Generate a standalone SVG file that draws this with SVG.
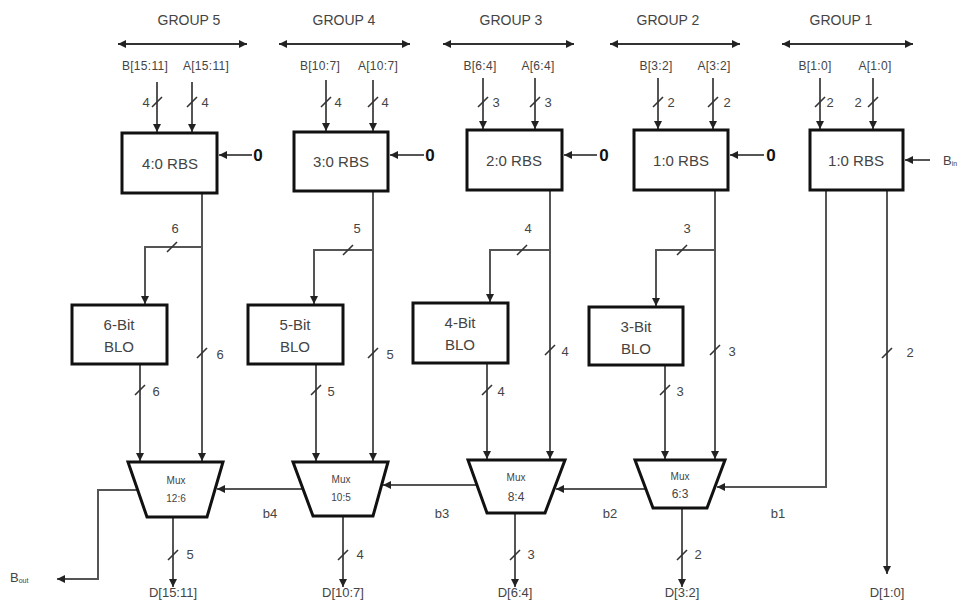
<svg xmlns="http://www.w3.org/2000/svg" width="963" height="603" viewBox="0 0 963 603">
<defs>
<marker id="ah" viewBox="0 0 8 8" refX="8" refY="4" markerWidth="8" markerHeight="8" markerUnits="userSpaceOnUse" orient="auto-start-reverse">
<path d="M0,0 L8,4 L0,8 z" fill="#222"/>
</marker>
<style>
.t{font-family:"Liberation Sans",Arial,sans-serif;fill:#444;text-anchor:middle;dominant-baseline:central}
.g{font-size:14px}
.in{font-size:12px;letter-spacing:0.3px}
.bw{font-size:13px}
.box{font-size:15px}
.mx{font-size:10px}
.mn{font-size:12px}
.zero{font-size:17px;font-weight:bold;fill:#111}
.w{fill:none;stroke:#555;stroke-width:2}
.a{marker-end:url(#ah)}
.d{marker-start:url(#ah);marker-end:url(#ah);stroke:#333}
.s{stroke:#333;stroke-width:1.6}
.b{fill:#fff;stroke:#111;stroke-width:3}
</style>
</defs>
<rect width="963" height="603" fill="#fff"/>

<g id="headers">
<text class="t g" x="189" y="20">GROUP 5</text>
<text class="t g" x="344" y="20">GROUP 4</text>
<text class="t g" x="511" y="20">GROUP 3</text>
<text class="t g" x="668" y="20">GROUP 2</text>
<text class="t g" x="841" y="20">GROUP 1</text>
<text class="t in" x="145" y="66">B[15:11]</text>
<text class="t in" x="206" y="66">A[15:11]</text>
<text class="t in" x="320" y="66">B[10:7]</text>
<text class="t in" x="378" y="66">A[10:7]</text>
<text class="t in" x="480" y="66">B[6:4]</text>
<text class="t in" x="538" y="66">A[6:4]</text>
<text class="t in" x="656" y="66">B[3:2]</text>
<text class="t in" x="714" y="66">A[3:2]</text>
<text class="t in" x="815" y="66">B[1:0]</text>
<text class="t in" x="875" y="66">A[1:0]</text>
</g>

<g id="connectors">
<line class="w d" x1="118" y1="44" x2="247" y2="44"/>
<line class="w d" x1="279" y1="44" x2="410" y2="44"/>
<line class="w d" x1="443" y1="44" x2="574" y2="44"/>
<line class="w d" x1="610" y1="44" x2="740" y2="44"/>
<line class="w d" x1="782" y1="44" x2="913" y2="44"/>
<line class="w a" x1="157" y1="82" x2="157" y2="132"/>
<line class="w a" x1="192" y1="82" x2="192" y2="132"/>
<line class="w a" x1="326" y1="80" x2="326" y2="131"/>
<line class="w a" x1="373" y1="80" x2="373" y2="131"/>
<line class="w a" x1="483" y1="78" x2="483" y2="129"/>
<line class="w a" x1="535" y1="78" x2="535" y2="129"/>
<line class="w a" x1="658" y1="78" x2="658" y2="129"/>
<line class="w a" x1="713" y1="78" x2="713" y2="129"/>
<line class="w a" x1="820" y1="78" x2="820" y2="129"/>
<line class="w a" x1="873" y1="78" x2="873" y2="129"/>
<line class="w a" x1="252" y1="155" x2="219" y2="155"/>
<line class="w a" x1="424" y1="155" x2="390" y2="155"/>
<line class="w a" x1="597" y1="155" x2="564" y2="155"/>
<line class="w a" x1="764" y1="155" x2="730" y2="155"/>
<line class="w a" x1="930" y1="160" x2="905" y2="160"/>
<line class="w a" x1="202" y1="193" x2="202" y2="461"/>
<line class="w a" x1="373" y1="191" x2="373" y2="461"/>
<line class="w a" x1="550" y1="190" x2="550" y2="459"/>
<line class="w a" x1="715" y1="190" x2="715" y2="459"/>
<polyline class="w a" points="202,247 145,247 145,304"/>
<polyline class="w a" points="373,250 314,250 314,304"/>
<polyline class="w a" points="550,250 490,250 490,302"/>
<polyline class="w a" points="715,250 656,250 656,306"/>
<line class="w a" x1="140" y1="364" x2="140" y2="461"/>
<line class="w a" x1="316" y1="364" x2="316" y2="461"/>
<line class="w a" x1="487" y1="363" x2="487" y2="459"/>
<line class="w a" x1="665" y1="365" x2="665" y2="459"/>
<polyline class="w a" points="826,190 826,487 717,487"/>
<line class="w a" x1="887" y1="190" x2="887" y2="574"/>
<line class="w a" x1="303" y1="489" x2="217" y2="489"/>
<line class="w a" x1="477" y1="485" x2="383" y2="485"/>
<line class="w a" x1="646" y1="489" x2="556" y2="489"/>
<polyline class="w a" points="138,490 98,490 98,579 57,579"/>
<line class="w a" x1="173" y1="517" x2="173" y2="587"/>
<line class="w a" x1="343" y1="516" x2="343" y2="587"/>
<line class="w a" x1="515" y1="513" x2="515" y2="587"/>
<line class="w a" x1="682" y1="508" x2="682" y2="587"/>
<g class="s">
<line x1="152" y1="107" x2="162" y2="97"/>
<line x1="187" y1="107" x2="197" y2="97"/>
<line x1="321" y1="107" x2="331" y2="97"/>
<line x1="368" y1="107" x2="378" y2="97"/>
<line x1="478" y1="107" x2="488" y2="97"/>
<line x1="530" y1="107" x2="540" y2="97"/>
<line x1="653" y1="107" x2="663" y2="97"/>
<line x1="708" y1="107" x2="718" y2="97"/>
<line x1="815" y1="107" x2="825" y2="97"/>
<line x1="868" y1="107" x2="878" y2="97"/>
<line x1="167" y1="252" x2="177" y2="242"/>
<line x1="343" y1="255" x2="353" y2="245"/>
<line x1="517" y1="255" x2="527" y2="245"/>
<line x1="677" y1="255" x2="687" y2="245"/>
<line x1="197" y1="358" x2="207" y2="348"/>
<line x1="368" y1="358" x2="378" y2="348"/>
<line x1="545" y1="355" x2="555" y2="345"/>
<line x1="710" y1="355" x2="720" y2="345"/>
<line x1="882" y1="358" x2="892" y2="348"/>
<line x1="135" y1="395" x2="145" y2="385"/>
<line x1="311" y1="395" x2="321" y2="385"/>
<line x1="482" y1="395" x2="492" y2="385"/>
<line x1="660" y1="395" x2="670" y2="385"/>
<line x1="168" y1="560" x2="178" y2="550"/>
<line x1="338" y1="560" x2="348" y2="550"/>
<line x1="510" y1="560" x2="520" y2="550"/>
<line x1="677" y1="560" x2="687" y2="550"/>
</g>
</g>

<g id="labels">
<text class="t bw" x="146" y="102">4</text>
<text class="t bw" x="205" y="102">4</text>
<text class="t bw" x="338" y="102">4</text>
<text class="t bw" x="385" y="102">4</text>
<text class="t bw" x="496" y="102">3</text>
<text class="t bw" x="548" y="102">3</text>
<text class="t bw" x="671" y="102">2</text>
<text class="t bw" x="727" y="102">2</text>
<text class="t bw" x="830" y="102">2</text>
<text class="t bw" x="858" y="102">2</text>
<text class="t bw" x="175" y="228">6</text>
<text class="t bw" x="357" y="228">5</text>
<text class="t bw" x="528" y="228">4</text>
<text class="t bw" x="687" y="228">3</text>
<text class="t bw" x="220" y="354">6</text>
<text class="t bw" x="390" y="354">5</text>
<text class="t bw" x="565" y="351">4</text>
<text class="t bw" x="732" y="351">3</text>
<text class="t bw" x="910" y="352">2</text>
<text class="t bw" x="156" y="391">6</text>
<text class="t bw" x="331" y="391">5</text>
<text class="t bw" x="501" y="391">4</text>
<text class="t bw" x="680" y="391">3</text>
<text class="t bw" x="190" y="554">5</text>
<text class="t bw" x="360" y="554">4</text>
<text class="t bw" x="531" y="554">3</text>
<text class="t bw" x="698" y="554">2</text>
<text class="t bw" x="270" y="513">b4</text>
<text class="t bw" x="442" y="513">b3</text>
<text class="t bw" x="610" y="513">b2</text>
<text class="t bw" x="778" y="513">b1</text>
<text class="t bw" x="173" y="592">D[15:11]</text>
<text class="t bw" x="343" y="592">D[10:7]</text>
<text class="t bw" x="515" y="592">D[6:4]</text>
<text class="t bw" x="682" y="592">D[3:2]</text>
<text class="t bw" x="887" y="592">D[1:0]</text>
<text class="t zero" x="258" y="155">0</text>
<text class="t zero" x="430" y="155">0</text>
<text class="t zero" x="604" y="155">0</text>
<text class="t zero" x="771" y="155">0</text>
<text class="t bw" x="943" y="160" style="text-anchor:start">B<tspan font-size="7" dy="3">in</tspan></text>
<text class="t bw" x="10" y="577" style="text-anchor:start">B<tspan font-size="7" dy="3">out</tspan></text>
</g>

<g id="rbs5"><rect class="b" x="122" y="133" width="95" height="60"/><text class="t box" x="170" y="163">4:0 RBS</text></g>
<g id="rbs4"><rect class="b" x="294" y="132" width="94" height="59"/><text class="t box" x="341" y="161">3:0 RBS</text></g>
<g id="rbs3"><rect class="b" x="467" y="130" width="95" height="60"/><text class="t box" x="514" y="160">2:0 RBS</text></g>
<g id="rbs2"><rect class="b" x="634" y="130" width="94" height="60"/><text class="t box" x="681" y="160">1:0 RBS</text></g>
<g id="rbs1"><rect class="b" x="810" y="130" width="93" height="60"/><text class="t box" x="856" y="160">1:0 RBS</text></g>

<g id="blo5"><rect class="b" x="72" y="305" width="95" height="59"/><text class="t box" x="119" y="324">6-Bit</text><text class="t box" x="119" y="346">BLO</text></g>
<g id="blo4"><rect class="b" x="248" y="305" width="95" height="59"/><text class="t box" x="295" y="324">5-Bit</text><text class="t box" x="295" y="346">BLO</text></g>
<g id="blo3"><rect class="b" x="413" y="303" width="95" height="60"/><text class="t box" x="460" y="322">4-Bit</text><text class="t box" x="460" y="344">BLO</text></g>
<g id="blo2"><rect class="b" x="589" y="307" width="94" height="58"/><text class="t box" x="636" y="326">3-Bit</text><text class="t box" x="636" y="348">BLO</text></g>

<g id="mux5"><polygon class="b" points="128,462 223,462 207,517 147,517"/><text class="t mx" x="176" y="480">Mux</text><text class="t mx" x="176" y="498">12:6</text></g>
<g id="mux4"><polygon class="b" points="293,462 388,462 373,516 313,516"/><text class="t mx" x="341" y="479">Mux</text><text class="t mx" x="341" y="497">10:5</text></g>
<g id="mux3"><polygon class="b" points="468,460 565,460 545,513 487,513"/><text class="t mx" x="516" y="477">Mux</text><text class="t mn" x="516" y="497">8:4</text></g>
<g id="mux2"><polygon class="b" points="635,460 725,460 707,508 653,508"/><text class="t mx" x="680" y="476">Mux</text><text class="t mn" x="680" y="494">6:3</text></g>
</svg>
